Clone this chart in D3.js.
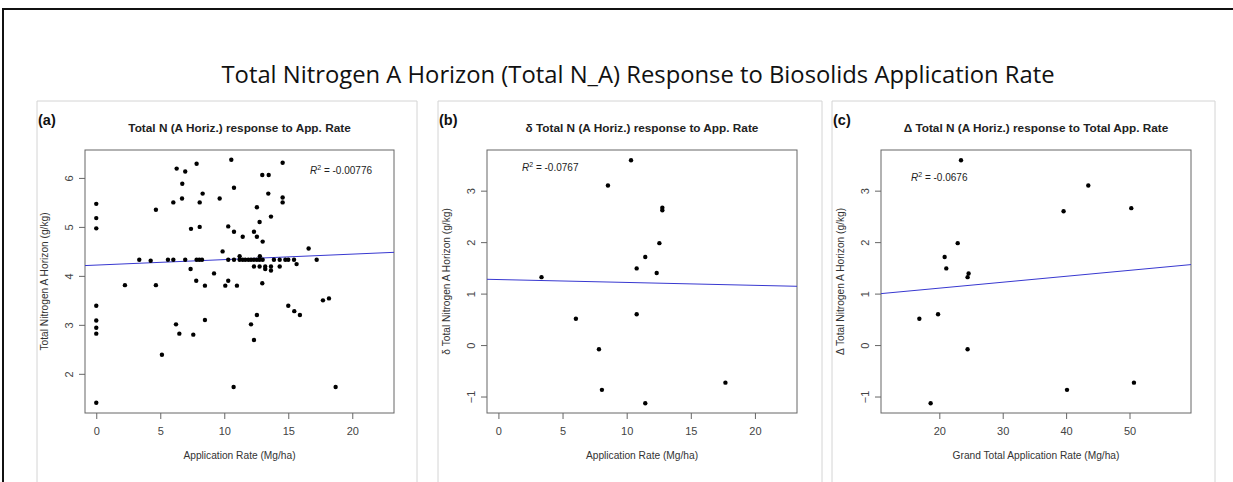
<!DOCTYPE html>
<html>
<head>
<meta charset="utf-8">
<script src="https://cdn.jsdelivr.net/npm/d3@7"></script>
<style>
  body { margin: 0; background: #fff; }
  text { font-family: "Liberation Sans", Arial, sans-serif; }
</style>
</head>
<body>
<div id="chart"></div>
<script>
// values

// (a) Total N vs application rate
var aRate = [0,0,0,0,0,0,0,0,2.24,3.36,4.25,4.66,4.66,5.13,5.6,6.02,6.02,6.23,6.28,6.49,
  6.7,6.72,6.95,6.95,7.37,7.4,7.58,7.81,7.84,7.84,8.05,8.26,8.08,8.08,8.31,8.49,8.49,9.2,9.64,9.87,
  10.08,10.31,10.31,10.31,10.55,10.73,10.76,10.76,10.76,10.99,11.2,11.2,11.44,11.44,11.64,11.88,12.09,12.09,12.32,12.32,
  12.32,12.32,12.55,12.55,12.55,12.55,12.76,12.76,12.76,12.78,12.97,12.97,13.0,13.0,13.2,13.2,13.44,13.47,13.65,13.65,
  13.65,13.88,14.33,14.33,14.56,14.56,14.56,14.77,15.0,15.0,15.45,15.47,15.65,15.91,16.59,17.22,17.71,18.18,18.7];
var aTotalN = [5.47,5.18,4.97,3.39,3.09,2.94,2.82,1.41,3.81,4.33,4.31,5.35,3.81,2.39,4.33,4.33,5.5,3.01,6.19,2.82,
  5.58,5.88,6.13,4.33,4.14,4.96,2.80,3.90,6.29,4.33,4.33,4.33,5.5,5.0,5.68,3.80,3.10,4.05,5.58,4.50,
  3.80,3.90,5.01,4.33,6.37,1.73,5.80,4.90,4.33,3.80,4.40,4.33,4.80,4.33,4.33,4.33,4.33,3.01,4.90,4.33,
  4.19,2.69,5.40,4.80,4.33,3.20,5.10,4.33,4.19,4.40,6.06,3.85,4.70,4.33,4.19,4.14,5.68,6.06,5.21,4.19,
  4.11,4.33,4.33,4.19,6.31,5.6,5.5,4.33,4.33,3.39,4.33,3.28,4.24,3.20,4.56,4.33,3.50,3.54,1.73];

// (b) delta Total N vs application rate
var bRate = [3.36,6.04,7.84,8.07,8.54,10.34,10.78,10.78,11.45,11.45,12.34,12.55,12.78,12.78,17.7];
var bDelta = [1.32,0.51,-0.08,-0.87,3.10,3.59,1.49,0.60,1.71,-1.13,1.40,1.98,2.67,2.62,-0.73];

// (c) Delta Total N vs grand total application rate
var cRate = [16.85,18.63,19.8,20.84,21.1,22.9,23.42,24.46,24.46,24.62,39.6,40.14,43.5,50.28,50.7];
var cDelta = [0.51,-1.13,0.60,1.71,1.49,1.98,3.59,-0.08,1.32,1.39,2.60,-0.87,3.10,2.66,-0.73];

// fitted lines: [intercept, slope]
var fitA = [4.22, 0.0112];
var fitB = [1.273, -0.00563];
var fitC = [0.875, 0.01153];

var rSquared = ["-0.00776", "-0.0767", "-0.0676"];

var xTicksAB = [0, 5, 10, 15, 20];
var xTicksC = [20, 30, 40, 50];
var yTicksA = [2, 3, 4, 5, 6];
var yTicksBC = [-1, 0, 1, 2, 3];

var panelTags = ["(a)", "(b)", "(c)"];
var panelTitles = ["Total N (A Horiz.) response to App. Rate",
  "\u03b4 Total N (A Horiz.) response to App. Rate",
  "\u0394 Total N (A Horiz.) response to Total App. Rate"];
var xTitles = ["Application Rate (Mg/ha)", "Application Rate (Mg/ha)",
  "Grand Total Application Rate (Mg/ha)"];
var yTitles = ["Total Nitrogen A Horizon (g/kg)", "\u03b4 Total Nitrogen A Horizon (g/kg)",
  "\u0394 Total Nitrogen A Horizon (g/kg)"];

var width = 1233, height = 482;

var svg = d3.select("#chart").append("svg")
    .attr("width", width)
    .attr("height", height);

// outer frame
svg.append("rect")
    .attr("x", 3).attr("y", 9)
    .attr("width", 1300).attr("height", 500)
    .attr("fill", "none")
    .attr("stroke", "#111")
    .attr("stroke-width", 2);

svg.append("text")
    .attr("x", 638).attr("y", 83)
    .attr("text-anchor", "middle")
    .attr("textLength", 833)
    .attr("lengthAdjust", "spacingAndGlyphs")
    .style("font-family", "'Open Sans', sans-serif")
    .style("font-size", "24px")
    .attr("fill", "#111")
    .text("Total Nitrogen A Horizon (Total N_A) Response to Biosolids Application Rate");

var panels = [
  { box: [37, 417], plot: [85, 150, 394, 413], xd: [-0.88, 23.26], yd: [1.2, 6.57],
    x: aRate, y: aTotalN, fit: fitA, xt: xTicksAB, yt: yTicksA, r2: [310, 174] },
  { box: [438, 822], plot: [487, 150, 797, 413], xd: [-0.89, 23.28], yd: [-1.32, 3.79],
    x: bRate, y: bDelta, fit: fitB, xt: xTicksAB, yt: yTicksBC, r2: [522, 171] },
  { box: [832, 1215], plot: [881, 150, 1191, 413], xd: [10.8, 59.7], yd: [-1.32, 3.79],
    x: cRate, y: cDelta, fit: fitC, xt: xTicksC, yt: yTicksBC, r2: [911, 181] }
];

panels.forEach(function(p, i) {
  var g = svg.append("g");
  var left = p.plot[0], top = p.plot[1], right = p.plot[2], bottom = p.plot[3];
  var cx = (left + right) / 2;

  // light panel border (open at the bottom)
  g.append("path")
      .attr("d", "M" + p.box[0] + ",490V101H" + p.box[1] + "V490")
      .attr("fill", "none")
      .attr("stroke", "#d4d4d4");

  g.append("text")
      .attr("x", p.box[0] + 1).attr("y", 125)
      .style("font-size", "14.5px").style("font-weight", "bold")
      .attr("fill", "#111")
      .text(panelTags[i]);

  g.append("text")
      .attr("x", cx).attr("y", 132)
      .attr("text-anchor", "middle")
      .style("font-size", "11.8px").style("font-weight", "bold")
      .attr("fill", "#222")
      .text(panelTitles[i]);

  var x = d3.scaleLinear().domain(p.xd).range([left, right]);
  var y = d3.scaleLinear().domain(p.yd).range([bottom, top]);

  var xAxis = g.append("g")
      .attr("transform", "translate(0," + bottom + ")")
      .call(d3.axisBottom(x).tickValues(p.xt).tickSize(6).tickPadding(8).tickFormat(d3.format("d")));
  xAxis.select(".domain").remove();
  xAxis.selectAll("line").attr("stroke", "#666");
  xAxis.selectAll("text").style("font-size", "11px").attr("fill", "#444")
      .style("font-family", "'Liberation Sans', Arial, sans-serif");

  var yAxis = g.append("g")
      .attr("transform", "translate(" + left + ",0)")
      .call(d3.axisLeft(y).tickValues(p.yt).tickSize(6).tickFormat(d3.format("d")));
  yAxis.select(".domain").remove();
  yAxis.selectAll("line").attr("stroke", "#666");
  yAxis.selectAll("text")
      .attr("x", null).attr("dy", null)
      .attr("text-anchor", "middle")
      .attr("transform", "translate(-12,0) rotate(-90)")
      .style("font-size", "11px").attr("fill", "#444")
      .style("font-family", "'Liberation Sans', Arial, sans-serif");

  g.append("rect")
      .attr("x", left).attr("y", top)
      .attr("width", right - left).attr("height", bottom - top)
      .attr("fill", "none")
      .attr("stroke", "#666");

  g.append("text")
      .attr("x", cx).attr("y", 459)
      .attr("text-anchor", "middle")
      .style("font-size", "10.2px")
      .attr("fill", "#333")
      .text(xTitles[i]);

  g.append("text")
      .attr("transform", "translate(" + (left - 37) + "," + ((top + bottom) / 2) + ") rotate(-90)")
      .attr("text-anchor", "middle")
      .style("font-size", "10.2px")
      .attr("fill", "#333")
      .text(yTitles[i]);

  // fitted line across the plot region
  var x0 = p.xd[0], x1 = p.xd[1];
  g.append("line")
      .attr("x1", x(x0)).attr("y1", y(p.fit[0] + p.fit[1] * x0))
      .attr("x2", x(x1)).attr("y2", y(p.fit[0] + p.fit[1] * x1))
      .attr("stroke", "#3838d0")
      .attr("stroke-width", 1);

  g.selectAll(".pt")
      .data(p.x.map(function(d, j) { return [d, p.y[j]]; }))
      .enter().append("circle")
      .attr("class", "pt")
      .attr("cx", function(d) { return x(d[0]); })
      .attr("cy", function(d) { return y(d[1]); })
      .attr("r", 2.2)
      .attr("fill", "#000");

  var r2 = g.append("text")
      .attr("x", p.r2[0]).attr("y", p.r2[1])
      .style("font-size", "10px")
      .attr("fill", "#222");
  r2.append("tspan").style("font-style", "italic").text("R");
  r2.append("tspan").attr("dy", -4).style("font-size", "7px").text("2");
  r2.append("tspan").attr("dy", 4).text(" = " + rSquared[i]);
});
</script>
</body>
</html>
